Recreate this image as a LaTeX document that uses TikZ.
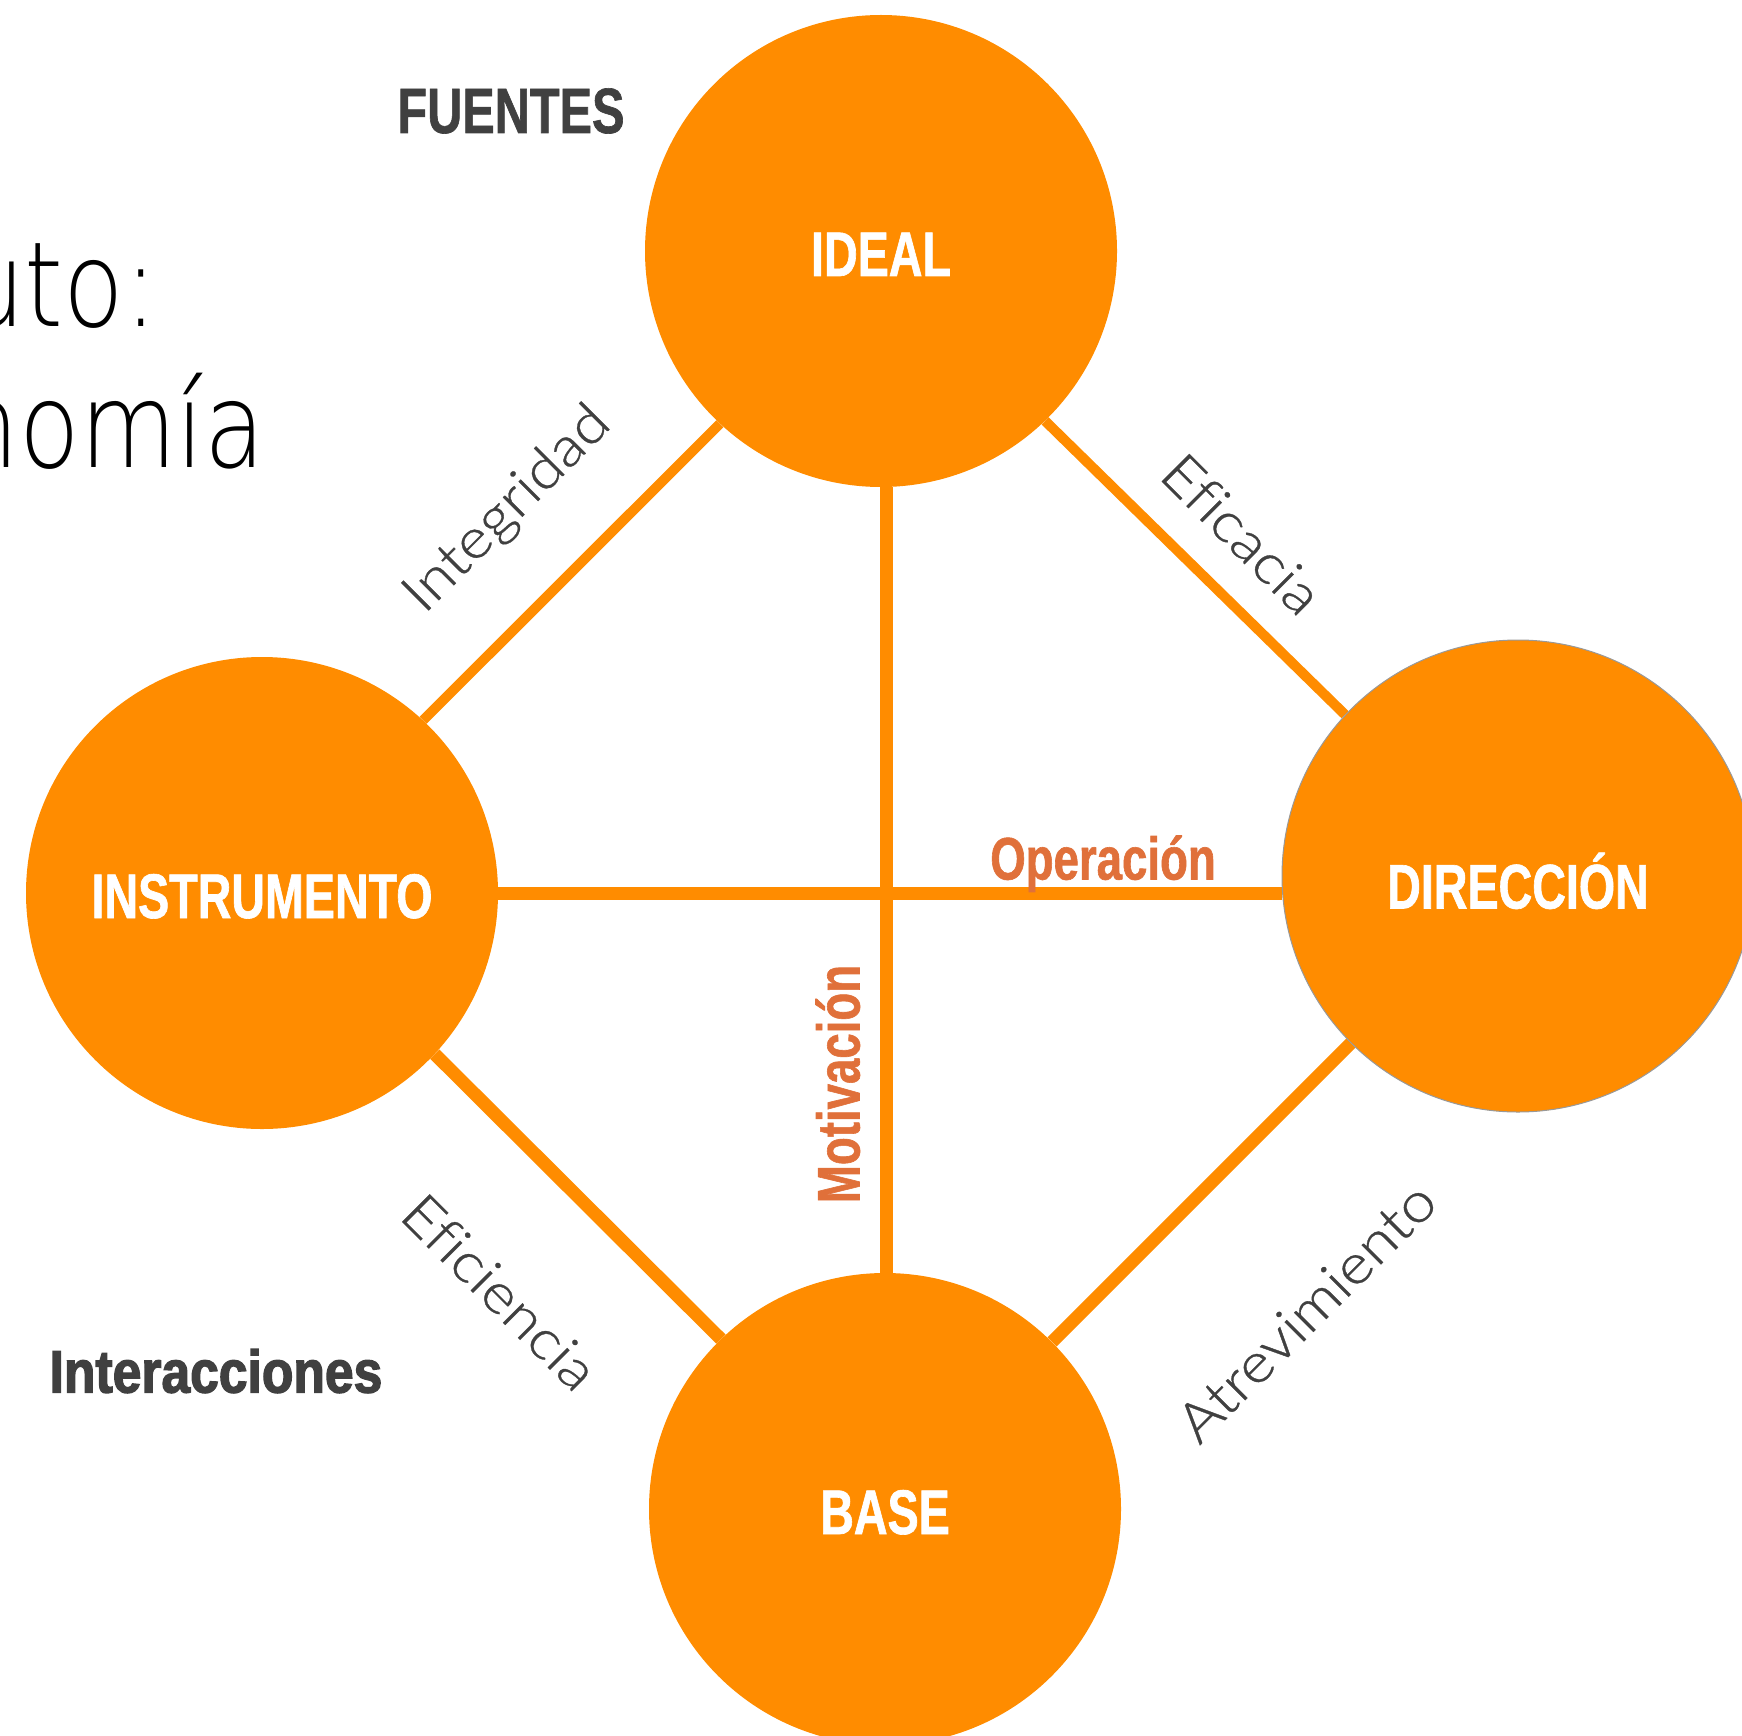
\documentclass[tikz,border=0pt]{standalone}
\usepackage{fontspec}
\usetikzlibrary{backgrounds}
\newfontfamily\condfont[FakeStretch=0.76,FakeBold=1]{Liberation Sans}
\newfontfamily\hubfont[FakeStretch=0.74,FakeBold=1]{Liberation Sans}
\newfontfamily\blackcondfont[FakeStretch=0.86,FakeBold=2.2]{Liberation Sans}
\newfontfamily\thinfont[FakeStretch=0.84]{DejaVu Sans ExtraLight}
\newfontfamily\lightfont[FakeStretch=1.12,FakeBold=0.6,Ligatures=NoCommon]{Lato Light}
\definecolor{fillorange}{HTML}{FF8C00}
\definecolor{rust}{HTML}{E0703A}
\definecolor{darktext}{HTML}{404040}
\begin{document}
\begin{tikzpicture}[x=1pt,y=-1pt,
  hub/.style={circle, fill=fillorange, minimum size=472pt, inner sep=0pt, text=white,
    font=\hubfont\bfseries\fontsize{63}{70}\selectfont, text height=50pt, text depth=0pt},
  link/.style={draw=fillorange, line width=10pt},
  linkthick/.style={draw=fillorange, line width=13pt},
  rel/.style={text=darktext, font=\lightfont\fontsize{55}{62}\selectfont, inner sep=0pt},
  axislbl/.style={text=rust, font=\condfont\bfseries\fontsize{60}{66}\selectfont, inner sep=0pt,
    text height=43pt, text depth=0pt},
  heading/.style={text=darktext, font=\condfont\bfseries\fontsize{64}{70}\selectfont, inner sep=0pt,
    text height=46pt, text depth=0pt},
  thintext/.style={font=\thinfont\fontsize{118}{130}\selectfont, inner sep=0pt, anchor=base east}]
\useasboundingbox (0,0) rectangle (1742,1736);
\node[hub] (ideal) at (881,251) {IDEAL};
\node[hub] (instr) at (262,893) {INSTRUMENTO};
\node[hub, draw=gray!80, line width=1pt, text height=65pt] (dir) at (1518,876) {DIRECCIÓN};
\node[hub] (base) at (885,1509) {BASE};
\begin{scope}[on background layer]
  \draw[link] (ideal.227) -- (instr.47);
  \draw[link] (ideal.314) -- (dir.137);
  \draw[linkthick] (instr.-43) -- (base.134);
  \draw[linkthick] (dir.225) -- (base.45);
  \draw[linkthick] ([xshift=5pt]ideal.south) -- ([xshift=1pt]base.north);
  \draw[linkthick] (instr.east) -- (instr.east -| dir.west);
\end{scope}
\node[rel, rotate=45] (integridad) at (508,510) {Integridad};
\node[rel, rotate=-45] (eficacia) at (1242,534) {Eficacia};
\node[rel, rotate=-45] (eficiencia) at (500,1292) {Eficiencia};
\node[rel, rotate=45] (atrev) at (1306,1312) {Atrevimiento};
\node[axislbl] (operacion) at (1103,858) {Operación};
\node[axislbl, rotate=90] (motivacion) at (838,1084) {Motivación};
\node[heading] (fuentes) at (511,110) {FUENTES};
\node[heading, font=\blackcondfont\bfseries\fontsize{60}{66}\selectfont, text height=43pt] (inter) at (216,1371) {Interacciones};
\node[thintext] (t1) at (158,326) {uto:};
\node[thintext] (t2) at (265,467) {nomía};
\end{tikzpicture}
\end{document}
